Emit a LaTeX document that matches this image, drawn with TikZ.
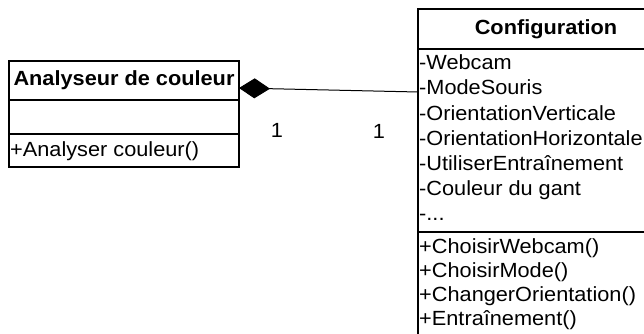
\documentclass[tikz,border=0pt]{standalone}
\usepackage{fontspec}
\setmainfont{Liberation Sans}[FakeStretch=1.06]
\usetikzlibrary{arrows.meta,positioning}
\newcommand{\umlfont}{\fontsize{20.5}{24}\selectfont}

\tikzset{
  compart/.style={draw, line width=1.6pt, rectangle, inner sep=0pt, outer sep=0pt},
  member/.style={anchor=base west, inner sep=0pt, font=\umlfont},
  mult/.style={inner sep=0pt, font=\umlfont},
  compos/.style={line width=1pt, {Diamond[length=31pt,width=20pt]}-}
}

\begin{document}
\begin{tikzpicture}[x=1pt, y=-1pt]
  \useasboundingbox (0,0) rectangle (644,334);
  \clip (0,0) rectangle (644,334);

  % Analyseur de couleur
  \node[compart, anchor=north west, minimum width=230pt, minimum height=39pt, font=\umlfont\bfseries] (anaTitle) at (9,61) {Analyseur de couleur};
  \node[compart, below=0pt of anaTitle, minimum width=230pt, minimum height=34pt] (anaAttr) {};
  \node[compart, below=0pt of anaAttr, minimum width=230pt, minimum height=33pt] (anaOps) {};
  \node[member] (anaOp1) at (10,156) {+Analyser couleur()};

  % Configuration
  \node[compart, anchor=north west, minimum width=256pt, minimum height=40pt, font=\umlfont\bfseries] (confTitle) at (418,9) {Configuration};
  \node[compart, below=0pt of confTitle, minimum width=256pt, minimum height=183pt] (confAttr) {};
  \node[compart, below=0pt of confAttr, minimum width=256pt, minimum height=110pt] (confOps) {};

  \node[member] (confAt1) at (419,70) {-Webcam};
  \node[member] (confAt2) at (419,95) {-ModeSouris};
  \node[member] (confAt3) at (419,120) {-OrientationVerticale};
  \node[member] (confAt4) at (419,145) {-OrientationHorizontale};
  \node[member] (confAt5) at (419,170) {-UtiliserEntraînement};
  \node[member] (confAt6) at (419,195) {-Couleur du gant};
  \node[member] (confAt7) at (419,220) {-...};

  \node[member] (confOp1) at (419,253) {+ChoisirWebcam()};
  \node[member] (confOp2) at (419,277) {+ChoisirMode()};
  \node[member] (confOp3) at (419,301) {+ChangerOrientation()};
  \node[member] (confOp4) at (419,325) {+Entraînement()};

  % composition
  \coordinate (diaTip) at (239,88);
  \coordinate (confLink) at (418,92);
  \draw[compos] (diaTip) -- (confLink);

  \node[mult] (multAna) at (277,130) {1};
  \node[mult] (multConf) at (379,131) {1};

\end{tikzpicture}
\end{document}
